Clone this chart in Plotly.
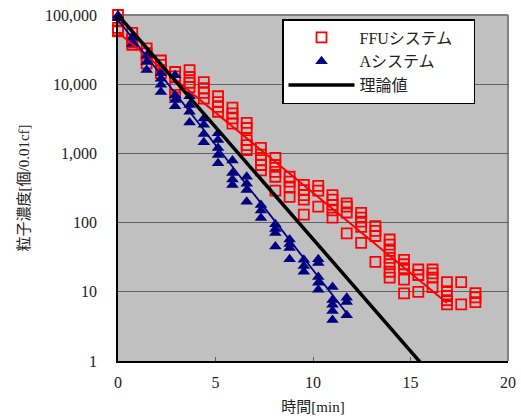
import plotly.graph_objects as go

# ---------------- data ----------------
ffu_times = [0, 0.73, 1.47, 2.2, 2.93, 3.67, 4.4, 5.13, 5.87, 6.6, 7.33, 8.07, 8.8,
             9.53, 10.27, 11.0, 11.73, 12.47, 13.2, 13.93, 14.67, 15.4, 16.13, 16.87, 17.6, 18.33]
ffu_counts = [
    [100000, 65000, 60000, 58000],
    [55000, 45000, 40000, 37000],
    [33000, 28000, 24000, 20000],
    [22000, 19000, 16000, 14500],
    [15000, 13000, 9000, 7000],
    [16000, 12700, 10500, 9100],
    [10700, 8800, 7500, 6200],
    [6700, 5500, 4700, 4000],
    [4600, 3800, 3200, 2700],
    [2760, 2330, 1560, 1320, 1120],
    [1200, 960, 800, 680, 570],
    [860, 680, 540, 460, 290],
    [460, 390, 320, 235],
    [350, 295, 250, 215, 130],
    [340, 290, 170],
    [250, 215, 180, 150, 118],
    [190, 170, 140, 70],
    [138, 118, 103, 87, 51],
    [89, 76, 64, 27],
    [57, 48, 39, 31, 25, 19.5, 16],
    [29, 25, 22, 15, 9.5],
    [21, 17.5, 10],
    [21, 18.5, 16, 11.7],
    [13.8, 10.2, 8.7, 7.6, 6.6],
    [13.8, 6.6],
    [9.6, 8.3, 7.1],
]

a_times = [0, 0.73, 1.47, 2.2, 2.93, 3.67, 4.4, 5.13, 5.87, 6.6, 7.33, 8.07, 8.8,
           9.53, 10.27, 11.0, 11.73]
a_counts = [
    [98000, 90000],
    [47000, 38000],
    [26000, 21000, 16000],
    [14500, 12000, 9800, 7700],
    [13500, 6900, 5900, 4800],
    [6700, 5000, 4000, 2800],
    [3200, 2600, 1900, 1450],
    [1950, 1560, 1200, 950, 720],
    [790, 520, 420, 350],
    [460, 365, 295, 200],
    [180, 150, 117],
    [95, 81, 71, 45],
    [57, 49, 43, 29.5],
    [29, 23.5, 19.5],
    [29.5, 26, 16.3, 13.5, 10.7],
    [11.7, 7.6, 6.5, 5.3, 3.9],
    [8.2, 7.1, 4.6],
]

ffu_trend_t = [0, 16.87]
ffu_trend_n = [56000, 6.9]
a_trend_t = [0, 11.73]
a_trend_n = [85000, 4.9]
theory_t = [0, 16]
theory_n = [100000, 0.66]

x_ticks = [0, 5, 10, 15, 20]
y_ticks = [1, 10, 100, 1000, 10000, 100000]
y_ticktext = ["1", "10", "100", "1,000", "10,000", "100,000"]

series_names = ["FFUシステム", "Aシステム", "理論値"]
x_title = "時間[min]"
y_title = "粒子濃度[個/0.01cf]"

# ---------------- flatten ----------------
def flatten(times, counts):
    xs, ys = [], []
    for t, col in zip(times, counts):
        for v in col:
            xs.append(t)
            ys.append(v)
    return xs, ys

fx, fy = flatten(ffu_times, ffu_counts)
ax, ay = flatten(a_times, a_counts)

FONT = "Liberation Serif, 'Noto Sans CJK JP', serif"
PAD = "\u00a0" * 4  # right padding inside the legend box

fig = go.Figure()
fig.add_trace(go.Scatter(
    x=fx, y=fy, mode="markers", name=series_names[0] + PAD, cliponaxis=False,
    marker=dict(symbol="square-open", size=10, color="#FF0000", line=dict(width=1.8, color="#FF0000")),
))
fig.add_trace(go.Scatter(
    x=ax, y=ay, mode="markers", name=series_names[1], cliponaxis=False,
    marker=dict(symbol="triangle-up", size=11, color="#000080", line=dict(width=0)),
))
fig.add_trace(go.Scatter(
    x=ffu_trend_t, y=ffu_trend_n, mode="lines", showlegend=False,
    line=dict(color="#FF0000", width=2),
))
fig.add_trace(go.Scatter(
    x=a_trend_t, y=a_trend_n, mode="lines", showlegend=False,
    line=dict(color="#000080", width=1.8),
))
fig.add_trace(go.Scatter(
    x=theory_t, y=theory_n, mode="lines", name=series_names[2],
    line=dict(color="#000000", width=3.5),
))

fig.update_layout(
    width=521, height=419,
    margin=dict(l=118, r=13, t=15, b=58),
    paper_bgcolor="white",
    plot_bgcolor="#C0C0C0",
    font=dict(family=FONT, size=16, color="#222222"),
    legend=dict(
        x=(282 - 118) / 390, y=(361 - 19) / 346, xanchor="left", yanchor="top",
        bgcolor="white", bordercolor="black", borderwidth=1.5,
        font=dict(family=FONT, size=16, color="#222222"),
        itemwidth=66,
    ),
    shapes=[
        dict(type="line", xref="paper", yref="paper", x0=0, x1=1, y0=1, y1=1,
             line=dict(color="#808080", width=2), layer="below"),
        dict(type="line", xref="paper", yref="paper", x0=1, x1=1, y0=0, y1=1,
             line=dict(color="#808080", width=2), layer="below"),
    ],
)

fig.update_xaxes(
    range=[0, 20], tickvals=x_ticks, showgrid=False, zeroline=False, automargin=False,
    showline=True, linecolor="black", linewidth=1.5,
    ticks="inside", ticklen=4, tickcolor="#606060", ticklabelstandoff=6,
    title=dict(text=x_title, font=dict(family=FONT, size=15), standoff=12),
)
fig.update_yaxes(
    type="log", range=[0, 5], tickvals=y_ticks, ticktext=y_ticktext,
    showgrid=True, gridcolor="#606060", gridwidth=1, zeroline=False, automargin=False,
    showline=True, linecolor="black", linewidth=1.5,
    ticks="inside", ticklen=4, tickcolor="#606060", ticklabelstandoff=16,
    title=dict(text=y_title, font=dict(family=FONT, size=15), standoff=12),
)

fig.write_html("out.html", config={"displayModeBar": False},
               post_script="document.body.style.margin='0px';")
